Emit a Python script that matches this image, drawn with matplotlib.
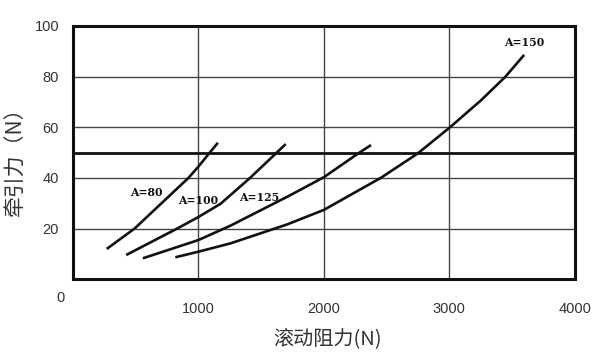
import matplotlib
matplotlib.use("Agg")
import matplotlib.pyplot as plt

# curve data (rolling resistance N, traction N)
a80_x = [269, 490, 705, 920, 1000, 1090, 1155]
a80_y = [12.0, 20.0, 30.0, 40.0, 44.5, 50.0, 53.9]

a100_x = [424, 829, 1000, 1176, 1411, 1624, 1696]
a100_y = [9.6, 20.0, 24.6, 29.8, 40.0, 50.0, 53.4]

a125_x = [557, 1000, 1256, 1709, 2000, 2283, 2376]
a125_y = [8.3, 15.5, 21.2, 32.6, 40.3, 50.0, 53.0]

a150_x = [816, 1000, 1256, 1709, 2000, 2456, 2749, 3003, 3256, 3448, 3597]
a150_y = [8.7, 10.9, 14.2, 21.7, 27.4, 40.1, 49.7, 59.9, 70.8, 80.0, 88.6]

curve_labels = ["A=80", "A=100", "A=125", "A=150"]
label_x = [584, 995, 1483, 3597]
label_y = [34.2, 31.3, 32.2, 93.4]

x_ticks = [1000, 2000, 3000, 4000]
y_ticks = [20, 40, 60, 80, 100]
limit_y = 50

fig = plt.figure(figsize=(5.94, 3.56), dpi=100)
ax = fig.add_axes([0.1229, 0.2154, 0.8446, 0.7116])

for v in x_ticks[:-1]:
    ax.axvline(v, color="#444444", lw=1.0, zorder=1)
for v in y_ticks[:-1]:
    ax.axhline(v, color="#444444", lw=1.0, zorder=1)
ax.axhline(limit_y, color="#111111", lw=2.0, zorder=2)

for xs, ys in [(a80_x, a80_y), (a100_x, a100_y), (a125_x, a125_y), (a150_x, a150_y)]:
    ax.plot(xs, ys, color="#111111", lw=1.9, solid_capstyle="butt",
            solid_joinstyle="round", zorder=3)

for lab, lx, ly in zip(curve_labels, label_x, label_y):
    ax.text(lx, ly, lab, ha="center", va="center", fontsize=7.8,
            fontweight="bold", family="DejaVu Serif", color="#111111", zorder=4)

ax.set_xlim(0, 4000)
ax.set_ylim(0, 100)
ax.set_xticks(x_ticks)
ax.set_yticks(y_ticks)
ax.tick_params(length=0, labelsize=10.5, labelcolor="#333333")
ax.tick_params(axis="x", pad=16)
ax.tick_params(axis="y", pad=10)
for lab in ax.get_xticklabels() + ax.get_yticklabels():
    lab.set_family("Liberation Sans")
for s in ax.spines.values():
    s.set_linewidth(2.2)
    s.set_color("#111111")

# origin label sits below-left of the corner
ax.text(-0.0253, -0.074, "0", transform=ax.transAxes, ha="center", va="center",
        fontsize=10.5, color="#333333", family="Liberation Sans")

fig.text(0.0269, 0.56, "牵引力（N）", rotation=90, ha="center", va="center",
         fontsize=15, color="#333333", family=["Noto Sans CJK SC", "DejaVu Sans"])
fig.text(0.552, 0.045, "滚动阻力(N)", ha="center", va="center",
         fontsize=14.5, color="#333333", family=["Noto Sans CJK SC", "DejaVu Sans"])

fig.savefig("out.png", dpi=100)
